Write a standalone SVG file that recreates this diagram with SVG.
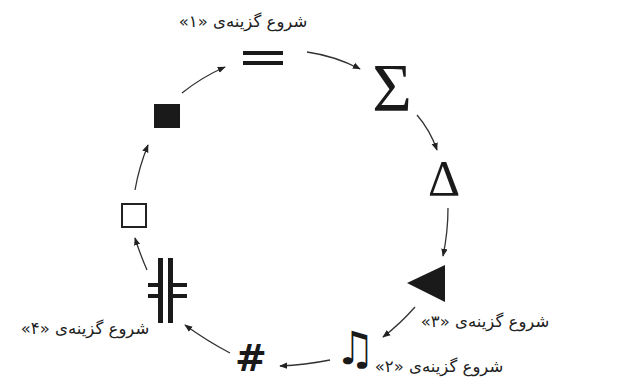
<svg xmlns="http://www.w3.org/2000/svg" width="621" height="379" viewBox="0 0 621 379">
<style>
.lbl{font-family:"DejaVu Sans",sans-serif;font-size:16.5px;fill:#222;direction:rtl;text-anchor:middle}
.sym{fill:#1a1a1a}
.conn path{fill:none;stroke:#333;stroke-width:1.3}
</style>
<defs>
<marker id="ah" viewBox="0 0 10 10" refX="9" refY="5" markerWidth="8" markerHeight="8" orient="auto" markerUnits="userSpaceOnUse">
<path d="M0,1 L10,5 L0,9 Z" fill="#222"/>
</marker>
</defs>
<rect width="621" height="379" fill="#fff"/>
<g id="n-eq">
<rect class="sym" x="243" y="51" width="40" height="4"/>
<rect class="sym" x="243" y="61" width="40" height="4"/>
<text class="lbl" x="243" y="27">شروع گزینه‌ی «۱»</text>
</g>
<g id="n-sigma">
<text x="392" y="110" font-family="Liberation Serif,serif" font-size="68" text-anchor="middle" class="sym">Σ</text>
</g>
<g id="n-delta">
<text x="444" y="195" font-family="Liberation Serif,serif" font-size="50" text-anchor="middle" class="sym">Δ</text>
</g>
<g id="n-tri">
<polygon class="sym" points="407,283 445,265 445,302"/>
<text class="lbl" x="485" y="327">شروع گزینه‌ی «۳»</text>
</g>
<g id="n-note">
<text x="355" y="364" font-family="DejaVu Sans,sans-serif" font-size="46" text-anchor="middle" class="sym">♫</text>
<text class="lbl" x="439" y="372">شروع گزینه‌ی «۲»</text>
</g>
<g id="n-hash">
<text x="251" y="371" font-family="DejaVu Sans,sans-serif" font-weight="bold" font-size="38" text-anchor="middle" class="sym">#</text>
</g>
<g id="n-dcross">
<rect class="sym" x="158" y="258" width="5" height="65"/>
<rect class="sym" x="168" y="258" width="5" height="65"/>
<rect class="sym" x="148" y="283" width="10" height="4"/>
<rect class="sym" x="173" y="283" width="14" height="4"/>
<rect class="sym" x="148" y="294" width="10" height="4"/>
<rect class="sym" x="173" y="294" width="14" height="4"/>
<text class="lbl" x="85" y="334">شروع گزینه‌ی «۴»</text>
</g>
<g id="n-sq-empty">
<rect x="122" y="204" width="24" height="23" fill="none" stroke="#222" stroke-width="2"/>
</g>
<g id="n-sq-filled">
<rect class="sym" x="154" y="104" width="26" height="24"/>
</g>
<g class="conn" id="connectors">
<path d="M182,93 Q202,77 225,67" marker-end="url(#ah)"/>
<path d="M307,52 Q335,56 360,69" marker-end="url(#ah)"/>
<path d="M417,115 Q430,130 437,150" marker-end="url(#ah)"/>
<path d="M448,208 Q448,232 443,256" marker-end="url(#ah)"/>
<path d="M415,307 Q400,324 383,337" marker-end="url(#ah)"/>
<path d="M330,360 Q305,365 280,366" marker-end="url(#ah)"/>
<path d="M230,353 Q207,341 185,325" marker-end="url(#ah)"/>
<path d="M147,270 Q140,254 135,238" marker-end="url(#ah)"/>
<path d="M135,190 Q139,167 148,145" marker-end="url(#ah)"/>
</g>
</svg>
